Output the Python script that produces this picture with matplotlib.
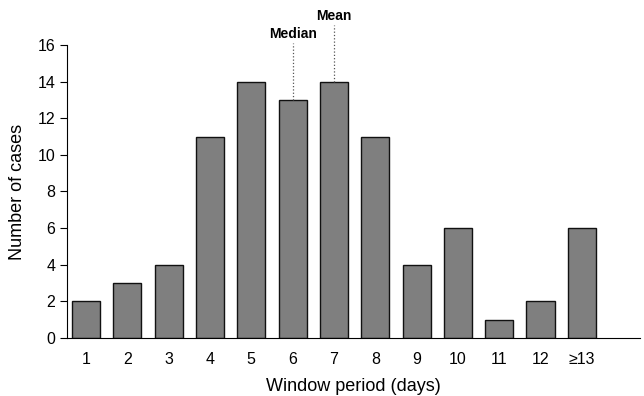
import numpy as np
import matplotlib.pyplot as plt

plt.rcParams['font.family'] = ['Liberation Sans', 'DejaVu Sans']

# Window period (days) vs number of cases
labels = ['1', '2', '3', '4', '5', '6', '7', '8', '9', '10', '11', '12', '≥13']
cases = [2, 3, 4, 11, 14, 13, 14, 11, 4, 6, 1, 2, 6]
median_pos = 6
mean_pos = 7

x = np.arange(1, len(cases) + 1)

fig = plt.figure(figsize=(6.44, 3.96), dpi=100)
ax = fig.add_axes([0.104, 0.1465, 0.89, 0.74])
ax.bar(x, cases, width=0.68, color='#7f7f7f', edgecolor='#111111', linewidth=1.0)

ax.set_xlim(0.54, 14.41)
ax.set_ylim(0, 16)
ax.set_yticks(range(0, 17, 2))
ax.set_xticks(x)
ax.set_xticklabels(labels)
ax.tick_params(axis='x', length=0, pad=10, labelsize=11.5)
ax.tick_params(axis='y', length=5, direction='out', labelsize=11.5)
ax.spines['top'].set_visible(False)
ax.spines['right'].set_visible(False)
ax.set_xlabel('Window period (days)', fontsize=13, labelpad=8)
ax.set_ylabel('Number of cases', fontsize=13, labelpad=8)

# median / mean markers
ax.plot([median_pos, median_pos], [cases[median_pos - 1], 16.1], color='#555555',
        linestyle=':', linewidth=0.9, clip_on=False)
ax.text(median_pos, 16.2, 'Median', ha='center', va='bottom', fontsize=10, fontweight='bold')
ax.plot([mean_pos, mean_pos], [cases[mean_pos - 1], 17.1], color='#555555',
        linestyle=':', linewidth=0.9, clip_on=False)
ax.text(mean_pos, 17.2, 'Mean', ha='center', va='bottom', fontsize=10, fontweight='bold')

fig.savefig('out.png', dpi=100)
